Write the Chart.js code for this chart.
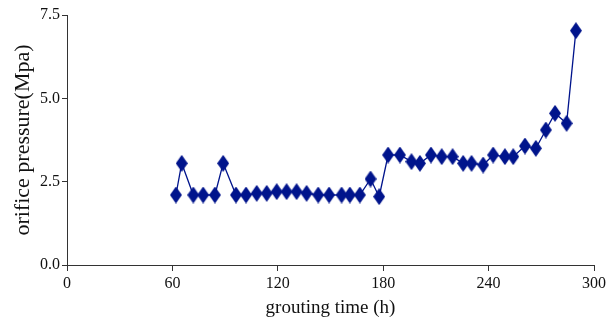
<!DOCTYPE html>
<html>
<head>
<meta charset="utf-8">
<script src="https://cdn.jsdelivr.net/npm/chart.js@4/dist/chart.umd.min.js"></script>
<style>
  html, body { margin: 0; padding: 0; background: #fff; }
  #wrap { width: 614px; height: 324px; }
</style>
</head>
<body>
<div id="wrap"><canvas id="pressureChart"></canvas></div>
<script>
// grouting time (h)
const times = [62, 65.3, 71.9, 77.5, 84.2, 88.9, 96.2, 101.9, 108, 113.7, 119.4, 125, 130.7,
  136.4, 143, 149.2, 156.3, 161, 166.7, 172.8, 177.7, 182.8, 189.5, 196.1, 200.9, 207.2,
  213.3, 219.5, 225.5, 230.3, 236.9, 242.6, 249.3, 254, 260.7, 266.9, 272.6, 277.8, 284.4, 289.7];
// orifice pressure (Mpa)
const pressures = [2.1, 3.05, 2.1, 2.1, 2.1, 3.05, 2.1, 2.1, 2.15, 2.15, 2.2, 2.2, 2.2,
  2.15, 2.1, 2.1, 2.1, 2.1, 2.1, 2.58, 2.05, 3.3, 3.3, 3.1, 3.05, 3.3,
  3.25, 3.25, 3.05, 3.05, 3.0, 3.3, 3.25, 3.25, 3.57, 3.5, 4.05, 4.55, 4.25, 7.03];
const xTicks = [0, 60, 120, 180, 240, 300];
const yTicks = [0, 2.5, 5, 7.5];

const navy = "#00148c";
const serif = "'Liberation Serif', 'DejaVu Serif', serif";

// tall diamond marker
function makeDiamond(w, h) {
  const c = document.createElement("canvas");
  c.width = w;
  c.height = h;
  const g = c.getContext("2d");
  g.fillStyle = navy;
  g.beginPath();
  g.moveTo(w / 2, 0);
  g.lineTo(w, h / 2);
  g.lineTo(w / 2, h);
  g.lineTo(0, h / 2);
  g.closePath();
  g.fill();
  return c;
}
const diamond = makeDiamond(12, 17);

const points = times.map((t, i) => ({ x: t, y: pressures[i] }));

new Chart(document.getElementById("pressureChart"), {
  type: "line",
  data: {
    datasets: [{
      data: points,
      borderColor: navy,
      borderWidth: 1.3,
      pointStyle: diamond,
      pointRadius: 6,
      pointHoverRadius: 6,
      fill: false,
      tension: 0,
    }],
  },
  options: {
    responsive: true,
    maintainAspectRatio: false,
    animation: false,
    layout: { padding: { top: 15, right: 20, left: 10, bottom: 0 } },
    plugins: {
      legend: { display: false },
      tooltip: { enabled: false },
    },
    scales: {
      x: {
        type: "linear",
        min: 0,
        max: 300,
        afterBuildTicks: (scale) => { scale.ticks = xTicks.map((v) => ({ value: v })); },
        afterFit: (scale) => { scale.height = 59; },
        grid: { display: true, drawOnChartArea: false, color: "#333", tickLength: 6 },
        border: { color: "#333", width: 1 },
        ticks: { color: "#111", font: { family: serif, size: 16 }, padding: 3, maxRotation: 0 },
        title: {
          display: true,
          text: "grouting time (h)",
          color: "#111",
          font: { family: serif, size: 19 },
          padding: { top: 0, bottom: 5 },
        },
      },
      y: {
        min: 0,
        max: 7.5,
        afterBuildTicks: (scale) => { scale.ticks = yTicks.map((v) => ({ value: v })); },
        afterFit: (scale) => { scale.width = 57; },
        grid: { display: true, drawOnChartArea: false, color: "#333", tickLength: 5 },
        border: { color: "#333", width: 1 },
        ticks: {
          color: "#111",
          font: { family: serif, size: 16 },
          padding: 2,
          callback: (v) => Number(v).toFixed(1),
        },
        title: {
          display: true,
          text: "orifice pressure(Mpa)",
          color: "#111",
          font: { family: serif, size: 22 },
          padding: { top: 0, bottom: 0 },
        },
      },
    },
  },
});
</script>
</body>
</html>
